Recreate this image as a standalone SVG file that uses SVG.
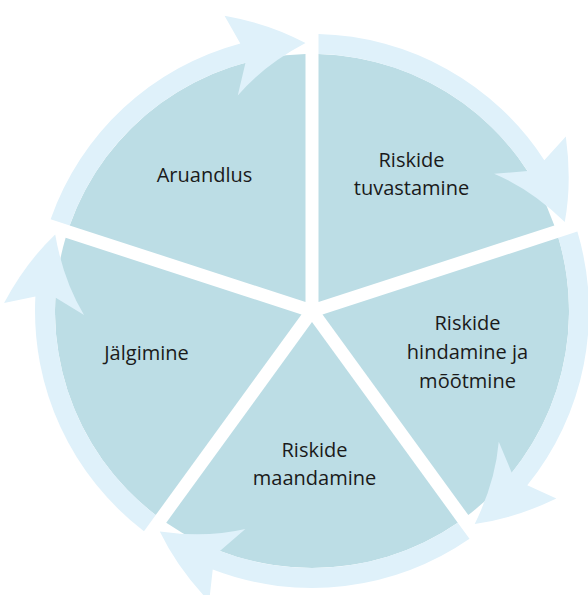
<svg xmlns="http://www.w3.org/2000/svg" width="588" height="595" viewBox="0 0 588 595">
<style>
.seg{fill:#bcdde5}
.arr{fill:#dff1fa}
text{font-family:"Open Sans","Liberation Sans",sans-serif;font-size:20px;fill:#1a1a1a;text-anchor:middle}
</style>
<defs>
<path id="wedge" d="M -6.5 -8.95 L -242.34 -85.57 A 257 257 0 0 1 -6.5 -256.92 Z"/>
<path id="arrow" d="M -261.36 -91.75 A 277 277 0 0 1 -71.69 -267.56 L -87.48 -295.32 Q -42.61 -287.32 -6.5 -267.9 Q -47.48 -246.37 -74.23 -215.58 L -66.52 -248.24 A 257 257 0 0 0 -242.34 -85.57 Z"/>
</defs>
<g id="aruandlus">
<use href="#wedge" class="seg" transform="translate(312 311) rotate(0)"/>
<text x="204.5" y="182">Aruandlus</text>
</g>
<g id="riskide-tuvastamine">
<use href="#wedge" class="seg" transform="translate(312 311) rotate(72)"/>
<text x="411.5" y="167">Riskide</text>
<text x="411.5" y="195">tuvastamine</text>
</g>
<g id="riskide-hindamine">
<use href="#wedge" class="seg" transform="translate(312 311) rotate(144)"/>
<text x="467.5" y="330">Riskide</text>
<text x="467.5" y="359">hindamine ja</text>
<text x="467.5" y="388">mõõtmine</text>
</g>
<g id="riskide-maandamine">
<use href="#wedge" class="seg" transform="translate(312 311) rotate(216)"/>
<text x="314.5" y="457">Riskide</text>
<text x="314.5" y="485">maandamine</text>
</g>
<g id="jalgimine">
<use href="#wedge" class="seg" transform="translate(312 311) rotate(288)"/>
<text x="146.5" y="360">Jälgimine</text>
</g>
<g id="connectors" transform="translate(312 311)">
<use href="#arrow" class="arr" transform="rotate(0)"/>
<use href="#arrow" class="arr" transform="rotate(72)"/>
<use href="#arrow" class="arr" transform="rotate(144)"/>
<use href="#arrow" class="arr" transform="rotate(216)"/>
<use href="#arrow" class="arr" transform="rotate(288)"/>
</g>
</svg>
